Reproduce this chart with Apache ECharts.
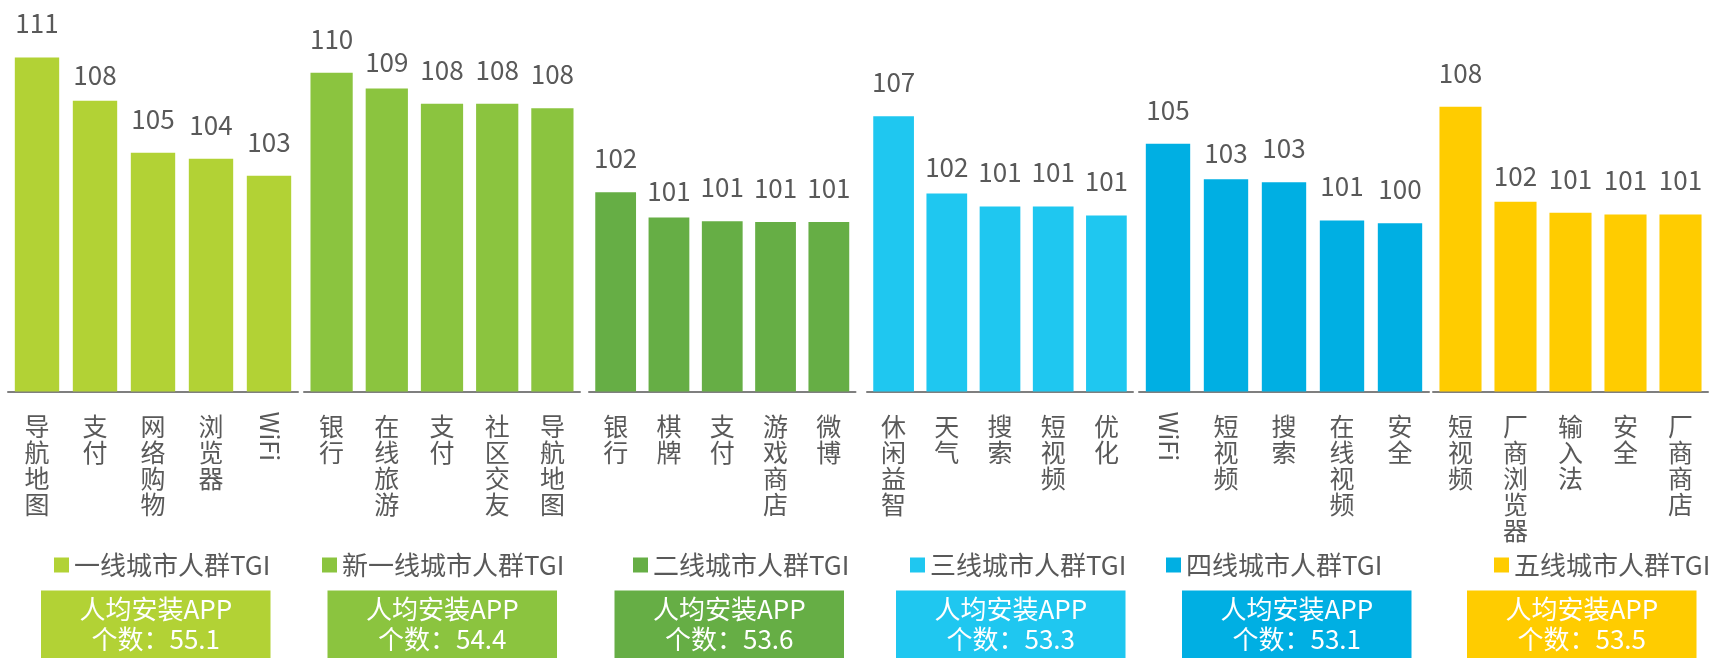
<!DOCTYPE html>
<html>
<head>
<meta charset="utf-8">
<script src="https://cdn.jsdelivr.net/npm/echarts@6/dist/echarts.min.js"></script>
<style>
html,body{margin:0;padding:0;background:#fff;}
#chart{width:1715px;height:658px;}
</style>
</head>
<body>
<div id="chart"></div>
<script>
// ---- data ----
const groupNames = ['一线城市人群TGI','新一线城市人群TGI','二线城市人群TGI','三线城市人群TGI','四线城市人群TGI','五线城市人群TGI'];
const cats1 = ['导航地图','支付','网络购物','浏览器','WiFi'];
const cats2 = ['银行','在线旅游','支付','社区交友','导航地图'];
const cats3 = ['银行','棋牌','支付','游戏商店','微博'];
const cats4 = ['休闲益智','天气','搜索','短视频','优化'];
const cats5 = ['WiFi','短视频','搜索','在线视频','安全'];
const cats6 = ['短视频','厂商浏览器','输入法','安全','厂商商店'];
const tgi1 = [110.97, 108.04, 104.53, 104.12, 102.97];
const tgi2 = [109.93, 108.87, 107.84, 107.84, 107.54];
const tgi3 = [102.06, 100.91, 100.74, 100.71, 100.71];
const tgi4 = [107.02, 102.13, 101.31, 101.31, 100.74];
const tgi5 = [104.86, 102.89, 102.73, 100.60, 100.45];
const tgi6 = [108.02, 102.01, 101.31, 101.20, 101.20];
const appCounts = [55.1, 54.4, 53.6, 53.3, 53.1, 53.5];
const boxLine1 = '人均安装APP';
const boxLine2Prefix = '个数：';

// ---- per-group axis ranges (each group is its own small chart) ----
const yMins = [88.4, 88.4, 93, 89.6, 91.1, 90];
const yMaxs = [112.15, 112.15, 108.98, 111.85, 110.63, 112.25];

// ---- layout / style ----
const colors = ['#B2D235','#8BC43F','#66AE45','#1FC7F0','#00AFE3','#FFCC00'];
const gridLeft = [8, 304, 589, 867, 1139, 1433];
const gridWidth = [290, 276, 266.5, 266, 290, 275];
const legendLeft = [49, 317, 628, 905, 1161, 1489];
const boxLeft = [41, 327.5, 614.5, 896, 1182, 1467];
const boxWidth = 229.5;
const FONT = '"Noto Sans CJK SC", "Noto Sans", sans-serif';
const TXT = '#595959';

const cats = [cats1, cats2, cats3, cats4, cats5, cats6];
const tgis = [tgi1, tgi2, tgi3, tgi4, tgi5, tgi6];
const isCJK = s => /[\u4e00-\u9fff]/.test(s);

const grid = [], xAxis = [], yAxis = [], series = [], legend = [], graphic = [];
for (let g = 0; g < 6; g++) {
  grid.push({left: gridLeft[g], width: gridWidth[g], top: 40, bottom: 266.5, containLabel: false});
  xAxis.push({
    type: 'category', gridIndex: g, data: cats[g],
    axisLine: {show: true, lineStyle: {color: '#7F7F7F', width: 2}},
    axisTick: {show: false},
    axisLabel: {
      interval: 0, margin: 22, color: TXT, fontSize: 25, lineHeight: 26, fontFamily: FONT,
      formatter: v => isCJK(v) ? v.split('').join('\n') : ''
    }
  });
  if (cats[g].some(c => !isCJK(c))) {
    xAxis.push({
      type: 'category', gridIndex: g, data: cats[g], position: 'bottom',
      axisLine: {show: false}, axisTick: {show: false},
      axisLabel: {
        interval: 0, margin: 20, rotate: -90, color: TXT, fontSize: 25, fontFamily: FONT,
        formatter: v => isCJK(v) ? '' : v
      }
    });
  }
  yAxis.push({type: 'value', gridIndex: g, min: yMins[g], max: yMaxs[g], show: false, splitLine: {show: false}});
  series.push({
    name: groupNames[g], type: 'bar', xAxisIndex: xAxis.length - (cats[g].some(c => !isCJK(c)) ? 2 : 1), yAxisIndex: g,
    barCategoryGap: '23.5%',
    itemStyle: {color: colors[g]},
    label: {
      show: true, position: 'top', color: TXT, fontSize: 26, fontFamily: FONT,
      formatter: p => String(Math.round(p.value))
    },
    data: tgis[g].map((v, i) => ({value: v, label: {distance: i === 1 ? 13 : 21}}))
  });
  legend.push({
    data: [groupNames[g]], left: legendLeft[g], top: 547,
    icon: 'rect', itemWidth: 15, itemHeight: 15,
    textStyle: {color: TXT, fontSize: 26, fontFamily: FONT}
  });
  graphic.push({
    type: 'group', left: boxLeft[g], top: 590.5,
    children: [
      {type: 'rect', shape: {x: 0, y: 0, width: boxWidth, height: 70}, style: {fill: colors[g]}},
      {type: 'text', x: boxWidth / 2, y: 34,
       style: {text: boxLine1 + '\n' + boxLine2Prefix + appCounts[g], fill: '#fff', fontSize: 26, lineHeight: 30,
               fontFamily: FONT, align: 'center', verticalAlign: 'middle'}}
    ]
  });
}

const chart = echarts.init(document.getElementById('chart'));
chart.setOption({
  animation: false,
  backgroundColor: '#fff',
  grid, xAxis, yAxis, series, legend, graphic
});
</script>
</body>
</html>
